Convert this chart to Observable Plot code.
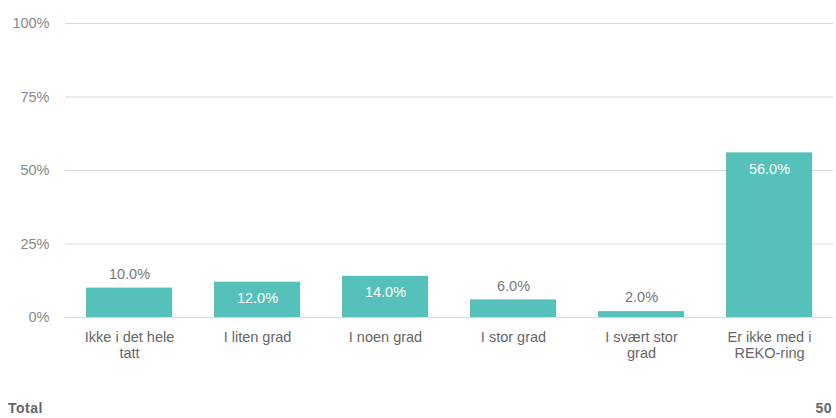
<!DOCTYPE html>
<html>
<head>
<meta charset="utf-8">
<script src="https://cdn.jsdelivr.net/npm/d3@7"></script>
<script src="https://cdn.jsdelivr.net/npm/@observablehq/plot@0.6"></script>
<style>
  body { margin: 0; background: #fff; font-family: "Liberation Sans", Arial, sans-serif; }
  #wrap { width: 836px; }
  .total { display: flex; justify-content: space-between; width: 836px; box-sizing: border-box;
           padding: 0 4px 0 8px; margin-top: 15px; font-weight: bold; font-size: 14px; letter-spacing: 0.5px; color: #666; }
</style>
</head>
<body>
<div id="wrap"></div>
<div class="total"><span id="tl"></span><span id="tv"></span></div>
<script>
const categories = ["Ikke i det hele tatt", "I liten grad", "I noen grad", "I stor grad", "I svært stor grad", "Er ikke med i REKO-ring"];
const tickLabels = ["Ikke i det hele\ntatt", "I liten grad", "I noen grad", "I stor grad", "I svært stor\ngrad", "Er ikke med i\nREKO-ring"];
const values = [10.0, 12.0, 14.0, 6.0, 2.0, 56.0];
const yTicks = [0, 25, 50, 75, 100];
const totalLabel = "Total";
const totalValue = 50;

const data = categories.map((c, i) => ({category: c, value: values[i], inside: values[i] >= 12}));
const labelMap = new Map(categories.map((c, i) => [c, tickLabels[i]]));

const chart = Plot.plot({
  width: 836,
  height: 385,
  marginTop: 23,
  marginBottom: 68,
  marginLeft: 65,
  marginRight: 3,
  style: {fontFamily: "'Liberation Sans', Arial, sans-serif", fontSize: "14.5px", background: "#fff"},
  x: {domain: categories, paddingInner: 0.33, paddingOuter: 0.165, align: 0.5},
  y: {domain: [0, 100]},
  marks: [
    Plot.gridY(yTicks, {stroke: "#d9d9d9", strokeOpacity: 1, strokeWidth: 1}),
    Plot.axisY(yTicks, {tickSize: 0, tickPadding: 16, tickFormat: d => d + "%", fill: "#8a8a8a", fontSize: 14.5, label: null}),
    Plot.barY(data, {x: "category", y: "value", fill: "#55c1ba"}),
    Plot.axisX({tickSize: 0, tickPadding: 13, tickFormat: d => labelMap.get(d), fill: "#666", fontSize: 14.5, lineHeight: 1.1, label: null, textAnchor: "middle"}),
    Plot.text(data.filter(d => d.inside), {x: "category", y: "value", text: d => d.value.toFixed(1) + "%", dy: 16, fill: "#fff", fontSize: 14.5}),
    Plot.text(data.filter(d => !d.inside), {x: "category", y: "value", text: d => d.value.toFixed(1) + "%", dy: -14, fill: "#777", fontSize: 14.5})
  ]
});
document.getElementById("wrap").appendChild(chart);
document.getElementById("tl").textContent = totalLabel;
document.getElementById("tv").textContent = totalValue;
</script>
</body>
</html>
